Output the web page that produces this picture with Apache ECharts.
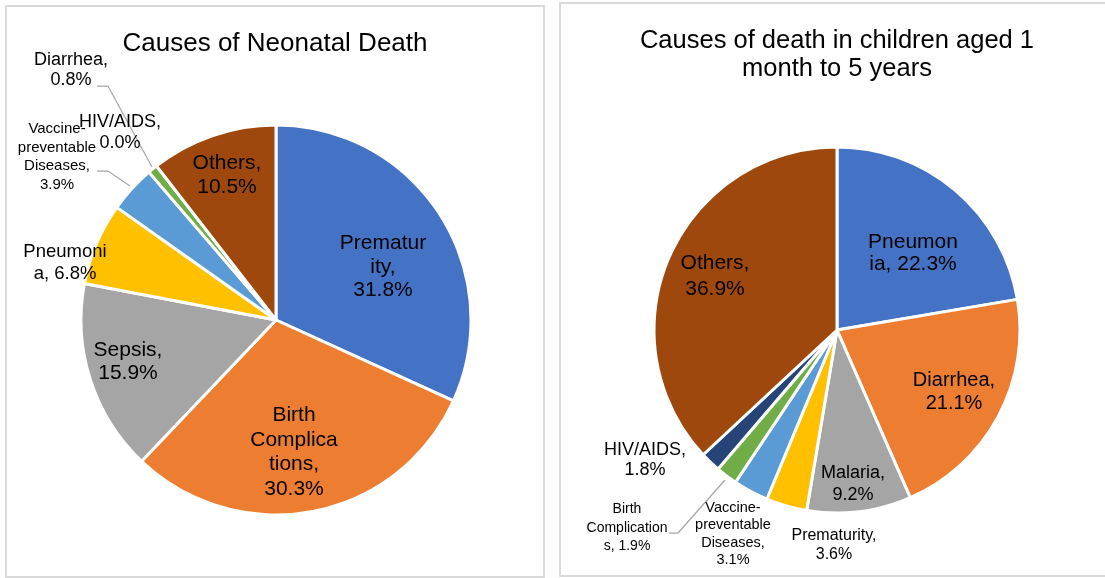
<!DOCTYPE html>
<html>
<head>
<meta charset="utf-8">
<script src="https://cdn.jsdelivr.net/npm/echarts@6/dist/echarts.min.js"></script>
<style>
  html, body { margin: 0; padding: 0; background: #fff; }
  #chart { width: 1105px; height: 578px; }
</style>
</head>
<body>
<div id="chart"></div>
<script>
// Causes of neonatal death (share of deaths, %)
const neonatalCauses = ['Prematurity', 'Birth Complications', 'Sepsis', 'Pneumonia',
  'Vaccine-preventable Diseases', 'Diarrhea', 'HIV/AIDS', 'Others'];
const neonatalShares = [31.8, 30.3, 15.9, 6.8, 3.9, 0.8, 0.0, 10.5];
// Wrapped label text for each neonatal cause (value appended after)
const neonatalLabelText = ['Prematur\nity,\n', 'Birth\nComplica\ntions,\n', 'Sepsis,\n', 'Pneumoni\na, ',
  'Vaccine-\npreventable\nDiseases,\n', 'Diarrhea,\n', 'HIV/AIDS,\n', 'Others,\n'];

// Causes of death in children aged 1 month to 5 years (share of deaths, %)
const childCauses = ['Pneumonia', 'Diarrhea', 'Malaria', 'Prematurity',
  'Vaccine-preventable Diseases', 'Birth Complications', 'HIV/AIDS', 'Others'];
const childShares = [22.3, 21.1, 9.2, 3.6, 3.1, 1.9, 1.8, 36.9];
const childLabelText = ['Pneumon\nia, ', 'Diarrhea,\n', 'Malaria,\n', 'Prematurity,\n',
  'Vaccine-\npreventable\nDiseases,\n', 'Birth\nComplication\ns, ', 'HIV/AIDS,\n', 'Others,\n'];

const palette = ['#4472C4', '#ED7D31', '#A5A5A5', '#FFC000', '#5B9BD5', '#70AD47', '#264478', '#9E480E'];

const FONT = '"Liberation Sans", Arial, Helvetica, sans-serif';

// Pie geometry
const leftPie = { cx: 276, cy: 320, r: 195 };
const rightPie = { cx: 837, cy: 330, r: 183 };

// Label placement relative to each pie centre: offset, font size, line height, leader line
const leftPlacement = [
  { dx: 107, dy: -53, fs: 21, lh: 23.5 },
  { dx: 18, dy: 132, fs: 21, lh: 24.5 },
  { dx: -148, dy: 42, fs: 21, lh: 23 },
  { dx: -211, dy: -57, fs: 18.5, lh: 21.5 },
  { dx: -219, dy: -163, fs: 15, lh: 18.5,
    line: [[-146, -134], [-168, -149], [-179, -149]] },
  { dx: -205, dy: -250, fs: 18, lh: 20,
    line: [[-124, -153], [-168, -234], [-179, -234]] },
  { dx: -156, dy: -187, fs: 18, lh: 21 },
  { dx: -49, dy: -145, fs: 21, lh: 24.5 }
];
const rightPlacement = [
  { dx: 76, dy: -77, fs: 21, lh: 21.5 },
  { dx: 117, dy: 62, fs: 20, lh: 23 },
  { dx: 16, dy: 154, fs: 18, lh: 22 },
  { dx: -3, dy: 215, fs: 16, lh: 18.5 },
  { dx: -104, dy: 204, fs: 14.5, lh: 17.5 },
  { dx: -210, dy: 198, fs: 14, lh: 18.5,
    line: [[-112, 150], [-159, 203], [-168, 203]] },
  { dx: -192, dy: 130, fs: 18, lh: 20.5 },
  { dx: -122, dy: -54, fs: 21, lh: 26 }
];

function buildData(names, values, texts, placement) {
  return names.map((name, i) => ({
    name: name,
    value: values[i],
    itemStyle: { color: palette[i] },
    label: {
      formatter: texts[i] + values[i].toFixed(1) + '%',
      fontSize: placement[i].fs,
      lineHeight: placement[i].lh
    },
    labelLine: { show: !!placement[i].line }
  }));
}

function pieSeries(pie, names, values, texts, placement) {
  return {
    type: 'pie',
    center: [pie.cx, pie.cy],
    radius: [0, pie.r],
    startAngle: 90,
    clockwise: true,
    avoidLabelOverlap: false,
    silent: true,
    itemStyle: { borderColor: '#ffffff', borderWidth: 3 },
    label: {
      show: true,
      position: 'outside',
      color: '#000000',
      fontFamily: FONT,
      align: 'center'
    },
    labelLine: { lineStyle: { color: '#a6a6a6', width: 1.25 }, smooth: false },
    labelLayout: function (params) {
      const p = placement[params.dataIndex];
      const out = {
        x: pie.cx + p.dx,
        y: pie.cy + p.dy,
        align: 'center',
        verticalAlign: 'middle'
      };
      if (p.line) {
        out.labelLinePoints = p.line.map(pt => [pie.cx + pt[0], pie.cy + pt[1]]);
      }
      return out;
    },
    data: buildData(names, values, texts, placement)
  };
}

const chart = echarts.init(document.getElementById('chart'), null, { renderer: 'canvas' });
chart.setOption({
  animation: false,
  backgroundColor: '#ffffff',
  graphic: [
    { type: 'rect', shape: { x: 6, y: 6, width: 538, height: 571 },
      style: { fill: 'none', stroke: '#d9d9d9', lineWidth: 2 }, z: -1 },
    { type: 'rect', shape: { x: 560, y: 3, width: 560, height: 573 },
      style: { fill: 'none', stroke: '#d9d9d9', lineWidth: 2 }, z: -1 },
    { type: 'text', x: 275, y: 44,
      style: { text: 'Causes of Neonatal Death', fill: '#000', align: 'center', verticalAlign: 'middle',
        font: '26px ' + FONT } },
    { type: 'text', x: 837, y: 55,
      style: { text: 'Causes of death in children aged 1\nmonth to 5 years', fill: '#000',
        align: 'center', verticalAlign: 'middle', font: '25.5px ' + FONT, lineHeight: 28 } }
  ],
  series: [
    pieSeries(leftPie, neonatalCauses, neonatalShares, neonatalLabelText, leftPlacement),
    pieSeries(rightPie, childCauses, childShares, childLabelText, rightPlacement)
  ]
});
</script>
</body>
</html>
